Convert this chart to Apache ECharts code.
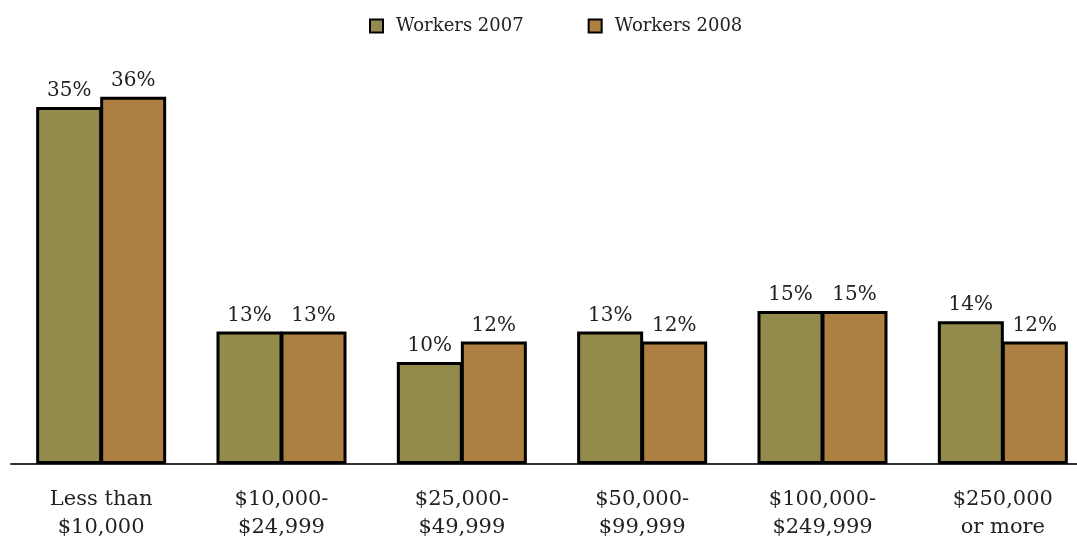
<!DOCTYPE html>
<html><head><meta charset="utf-8">
<script src="https://cdn.jsdelivr.net/npm/echarts@6/dist/echarts.min.js"></script>
<style>html,body{margin:0;padding:0;background:#fff}#c{width:1077px;height:539px}</style>
</head><body><div id="c"></div>
<script>
var categories = ['Less than\n$10,000', '$10,000-\n$24,999', '$25,000-\n$49,999', '$50,000-\n$99,999', '$100,000-\n$249,999', '$250,000\nor more'];
var workers2007 = [35, 13, 10, 13, 15, 14];
var workers2008 = [36, 13, 12, 12, 15, 12];
var seriesNames = ['Workers 2007', 'Workers 2008'];
var FONT = 'DejaVu Serif';
var chart = echarts.init(document.getElementById('c'));
function lbl(){return {show:true, position:'top', distance:6, formatter:'{c}%', fontFamily:FONT, fontSize:20, color:'#222'};}
chart.setOption({
  animation:false,
  legend:{top:12, left:364, itemWidth:13, itemHeight:13, itemGap:64, icon:'rect',
    itemStyle:{borderColor:'#000', borderWidth:2},
    textStyle:{fontFamily:FONT, fontSize:18, color:'#222', padding:[0,0,0,8]}},
  grid:{left:11, width:1082, top:56, bottom:75, outerBoundsMode:'none', containLabel:false},
  xAxis:{type:'category', data:categories,
    axisLine:{lineStyle:{color:'#333', width:2}}, axisTick:{show:false},
    axisLabel:{fontFamily:FONT, fontSize:21, color:'#222', lineHeight:28, margin:22}},
  yAxis:{type:'value', min:0, max:40, show:false, splitLine:{show:false}},
  series:[
    {name:seriesNames[0], type:'bar', data:workers2007, barWidth:66, barGap:'-3%',
     itemStyle:{color:'#938b4b', borderColor:'#000', borderWidth:3}, label:lbl()},
    {name:seriesNames[1], type:'bar', data:workers2008, barWidth:66, barGap:'-3%',
     itemStyle:{color:'#ad8042', borderColor:'#000', borderWidth:3}, label:lbl()}
  ]
});
</script></body></html>
